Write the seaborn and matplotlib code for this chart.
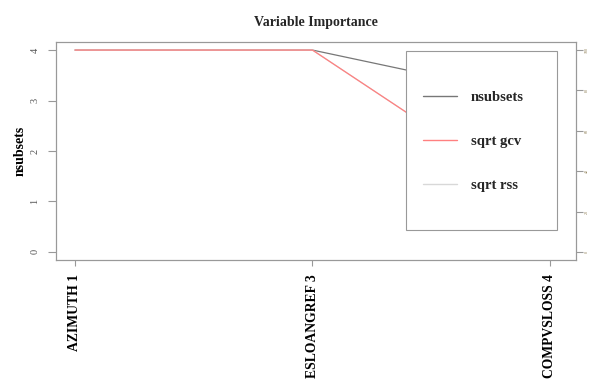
import matplotlib
matplotlib.use("Agg")
import matplotlib.pyplot as plt
from matplotlib.patches import Rectangle
from matplotlib.lines import Line2D
import seaborn as sns
import pandas as pd

# variable importance values (earth evimp style)
variables = ["AZIMUTH 1", "ESLOANGREF 3", "COMPVSLOSS 4"]
nsubsets = [4, 4, 3]
sqrt_gcv = [100, 100, 22]
sqrt_rss = [100, 100, 22]
left_ticks = [0, 1, 2, 3, 4]
right_ticks = [0, 20, 40, 60, 80, 100]

sns.set_theme(style="white")
plt.rcParams["font.family"] = ["Liberation Serif", "DejaVu Serif"]

df = pd.DataFrame({"pos": range(1, len(variables) + 1),
                   "nsubsets": nsubsets, "gcv": sqrt_gcv, "rss": sqrt_rss})

fig = plt.figure(figsize=(5.9, 3.81), dpi=100)
ax = fig.add_axes([0.0949, 0.3176, 0.8814, 0.5722])
ax2 = ax.twinx()

c_nsub = "#777777"
c_gcv = "#ff8080"
c_rss = "#d8d8d8"

sns.lineplot(data=df, x="pos", y="nsubsets", ax=ax, color=c_nsub, lw=0.9)
sns.lineplot(data=df, x="pos", y="rss", ax=ax2, color=c_rss, lw=0.9)
sns.lineplot(data=df, x="pos", y="gcv", ax=ax2, color=c_gcv, lw=0.9)

ax.set_xlim(0.92, 3.11)
ax.set_ylim(-0.16, 4.16)
ax2.set_ylim(-4, 104)

for a in (ax, ax2):
    for s in a.spines.values():
        s.set_color("#999999")
        s.set_linewidth(0.8)

ax.set_xticks(df["pos"])
ax.set_xticklabels(variables, rotation=90, fontsize=9.8, fontweight="bold",
                   color="black", va="top")
ax.set_xlabel("")
ax.set_yticks(left_ticks)
ax.set_yticklabels([str(v) for v in left_ticks], rotation=90, va="center",
                   fontsize=7.5, color="#555555")
ax.set_ylabel("nsubsets", fontsize=10, fontweight="bold", color="black", labelpad=3)
ax.tick_params(axis="x", direction="out", length=4, width=0.8, color="#999999",
               bottom=True, pad=6)
ax.tick_params(axis="y", direction="out", length=6, width=0.8, color="#999999",
               left=True, pad=6)

ax2.set_yticks(right_ticks)
ax2.set_yticklabels([str(v) for v in right_ticks], rotation=90, va="center",
                    fontsize=3, color="#8a7a50")
ax2.set_ylabel("")
ax2.tick_params(axis="y", direction="out", length=5, width=0.8, color="#999999",
                right=True, pad=1.5)

fig.suptitle("Variable Importance", x=0.536, y=0.958, fontsize=10, fontweight="bold")

# legend box
box = Rectangle((406 / 590, 1 - 230 / 381), 151 / 590, 179 / 381,
                transform=fig.transFigure, facecolor="white",
                edgecolor="#999999", lw=0.8, zorder=10, clip_on=False)
ax2.add_patch(box)
handles = [Line2D([], [], color=c_nsub, lw=1.0),
           Line2D([], [], color=c_gcv, lw=1.0),
           Line2D([], [], color=c_rss, lw=1.0)]
leg = ax2.legend(handles, ["nsubsets", "sqrt gcv", "sqrt rss"],
                 loc="upper left", bbox_to_anchor=(423 / 590, 1 - 91 / 381),
                 bbox_transform=fig.transFigure, frameon=False,
                 prop={"size": 10.5, "weight": "bold"}, handlelength=2.3,
                 handletextpad=1.0, labelspacing=2.1, borderpad=0, borderaxespad=0)
leg.set_zorder(11)

fig.savefig("out.png", dpi=100)
